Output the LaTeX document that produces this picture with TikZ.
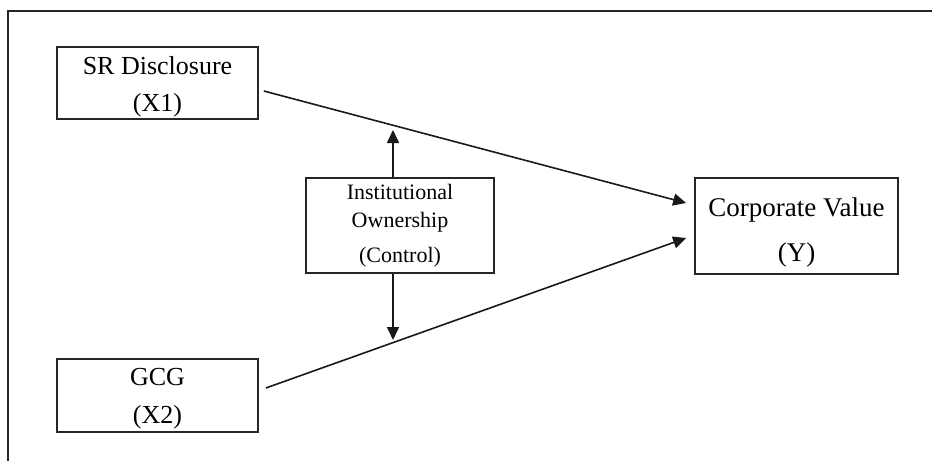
\documentclass[tikz,border=0pt]{standalone}
\usepackage{fontspec}
\setmainfont{Liberation Serif}
\usetikzlibrary{arrows.meta,calc}
\begin{document}
\begin{tikzpicture}[x=1pt,y=-1pt,
  box/.style={draw=black!85,line width=1.7pt,rectangle,inner sep=0pt,align=center},
  bigtxt/.style={font=\fontsize{26}{30}\selectfont},
  cvtxt/.style={font=\fontsize{27}{31}\selectfont},
  smalltxt/.style={font=\fontsize{22}{26}\selectfont},
  arr/.style={line width=1.6pt,draw=black!90,-{Triangle[length=13pt,width=12pt]}},
  frame/.style={line width=1.7pt,draw=black!85}]
\useasboundingbox (0,0) rectangle (932,461);
\coordinate (ftl) at (8,11);
\coordinate (ftr) at (932,11);
\coordinate (fbl) at (8,461);
\draw[frame] (ftr) -- (ftl) -- (fbl);

\node[box,bigtxt,minimum width=201pt,minimum height=72pt] (sr) at (157.5,83)
  {\rule{0pt}{26pt}SR Disclosure\\[7pt](X1)};
\node[box,bigtxt,minimum width=201pt,minimum height=73pt] (gcg) at (157.5,395.5)
  {\rule{0pt}{24pt}GCG\\[8pt](X2)};
\node[box,smalltxt,minimum width=188pt,minimum height=95pt] (inst) at (400,225.5)
  {Institutional\\[2pt]Ownership\\[9pt](Control)};
\node[box,cvtxt,minimum width=203pt,minimum height=96pt] (cv) at (796.5,226)
  {\rule{0pt}{31pt}Corporate Value\\[14pt](Y)};

\coordinate (uptip) at (393,130);
\coordinate (dntip) at (393,340);
\draw[arr] ($(sr.east)+(5,8)$) -- ($(cv.west)+(-8,-23)$);
\draw[arr] ($(gcg.east)+(7,-7.5)$) -- ($(cv.west)+(-8,12)$);
\draw[arr] (inst.north -| uptip) -- (uptip);
\draw[arr] (inst.south -| dntip) -- (dntip);
\end{tikzpicture}
\end{document}
